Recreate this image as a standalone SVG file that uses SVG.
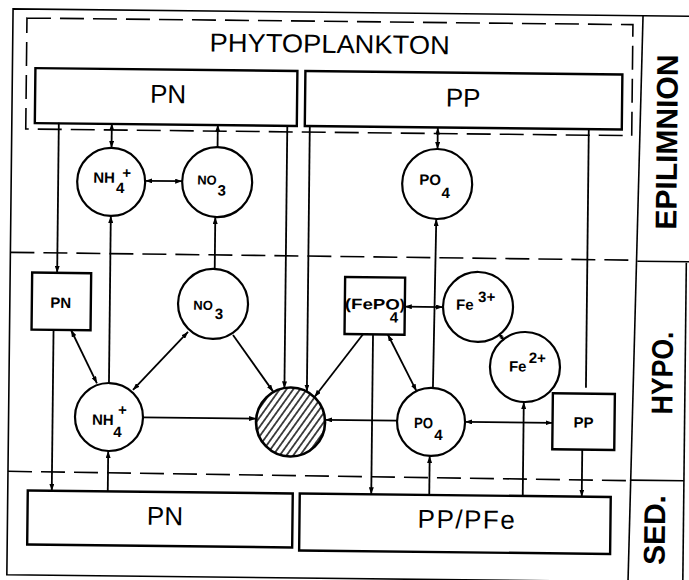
<svg xmlns="http://www.w3.org/2000/svg" width="689" height="580" viewBox="0 0 689 580">
<defs>
<style>
.box{fill:#fff;stroke:#000;stroke-width:2.4}
.circ{fill:#fff;stroke:#000;stroke-width:2.2}
.con{stroke:#000;stroke-width:1.8;fill:none}
.dash{stroke:#000;stroke-width:1.6;stroke-dasharray:24 9;fill:none}
.frame{stroke:#000;stroke-width:1.6;fill:none}
.big{font-family:"Liberation Sans",Arial,sans-serif;font-size:26px;fill:#000}
.sm{font-family:"Liberation Sans",Arial,sans-serif;font-size:15px;font-weight:bold;fill:#000}
.lab{font-family:"Liberation Sans",Arial,sans-serif;font-size:30px;font-weight:bold;fill:#000}
</style>
<marker id="ah" viewBox="0 0 7 5" refX="7" refY="2.5" markerWidth="7" markerHeight="5" markerUnits="userSpaceOnUse" orient="auto-start-reverse">
<path d="M0,0L7,2.5L0,5z" fill="#000"/>
</marker>
<marker id="ahs" viewBox="0 0 4 4" refX="4" refY="2" markerWidth="4" markerHeight="4" markerUnits="userSpaceOnUse" orient="auto-start-reverse">
<path d="M0,0L4,2L0,4z" fill="#000"/>
</marker>
<pattern id="hatch" width="5.5" height="10" patternUnits="userSpaceOnUse" patternTransform="rotate(35)">
<line x1="2.75" y1="0" x2="2.75" y2="10" stroke="#000" stroke-width="1.4"/>
</pattern>
</defs>
<rect x="0" y="0" width="689" height="580" fill="#fff"/>
<g transform="rotate(0.63 344 290)">
<g id="frame">
<path class="frame" d="M700,12.5H10V578.5H640"/>
<line class="frame" x1="640" y1="12.5" x2="631" y2="592"/>
<line class="frame" x1="686" y1="259" x2="686" y2="592"/>
<line class="dash" x1="10" y1="256" x2="637" y2="257"/>
<line class="frame" x1="637" y1="258" x2="700" y2="258"/>
<line class="dash" x1="10" y1="475" x2="632" y2="477.5"/>
<line class="frame" x1="632" y1="477" x2="686" y2="477"/>
<text class="lab" transform="translate(675.5,138.5) rotate(-90)" text-anchor="middle" textLength="175" lengthAdjust="spacingAndGlyphs">EPILIMNION</text>
<text class="lab" transform="translate(673.5,369.5) rotate(-90)" text-anchor="middle" textLength="83" lengthAdjust="spacingAndGlyphs">HYPO.</text>
<text class="lab" transform="translate(667.5,526.5) rotate(-90)" text-anchor="middle" textLength="70" lengthAdjust="spacingAndGlyphs">SED.</text>
</g>
<g id="phytoplankton">
<rect class="dash" x="24" y="21.5" width="606" height="111"/>
<text class="big" x="327" y="53" text-anchor="middle" font-size="27" textLength="240" lengthAdjust="spacingAndGlyphs">PHYTOPLANKTON</text>
</g>
<g id="pn-epi">
<rect class="box" x="33" y="71.5" width="262" height="55"/>
<text class="big" x="166" y="105" text-anchor="middle">PN</text>
</g>
<g id="pp-epi">
<rect class="box" x="303" y="71.5" width="317" height="55"/>
<text class="big" x="461" y="105.5" text-anchor="middle">PP</text>
</g>
<g id="nh4-epi">
<circle class="circ" cx="110" cy="184.5" r="34"/>
<text class="sm"><tspan x="92" y="185.5">NH</tspan><tspan x="121" y="180.5">+</tspan><tspan x="115" y="195.5">4</tspan></text>
</g>
<g id="no3-epi">
<circle class="circ" cx="216" cy="183.5" r="35"/>
<text class="sm"><tspan x="196" y="186" font-size="13">NO</tspan><tspan x="216.5" y="197">3</tspan></text>
</g>
<g id="po4-epi">
<circle class="circ" cx="436" cy="183" r="35"/>
<text class="sm"><tspan x="418" y="184">PO</tspan><tspan x="440.5" y="197">4</tspan></text>
</g>
<g id="pn-hypo">
<rect class="box" x="32" y="276" width="59" height="57"/>
<text class="sm" x="61" y="311" text-anchor="middle" font-size="16">PN</text>
</g>
<g id="no3-hypo">
<circle class="circ" cx="213.2" cy="305.4" r="35"/>
<text class="sm"><tspan x="193.5" y="311.4" font-size="13">NO</tspan><tspan x="215" y="320.5">3</tspan></text>
</g>
<g id="nh4-hypo">
<circle class="circ" cx="110.4" cy="419.6" r="34"/>
<text class="sm"><tspan x="93.4" y="427.6">NH</tspan><tspan x="119.4" y="417.6">+</tspan><tspan x="115" y="439.6">4</tspan></text>
</g>
<g id="sink">
<circle cx="292" cy="422.6" r="34.5" fill="url(#hatch)" stroke="#000" stroke-width="2.6"/>
</g>
<g id="fepo4">
<rect class="box" x="345" y="277" width="60" height="57"/>
<text class="sm"><tspan x="345" y="309" textLength="55" lengthAdjust="spacingAndGlyphs">(FePO</tspan><tspan x="400" y="309">)</tspan><tspan x="390" y="322">4</tspan></text>
</g>
<g id="fe3">
<circle class="circ" cx="478.2" cy="305.5" r="35"/>
<text class="sm"><tspan x="456.2" y="308.5">Fe</tspan><tspan x="478.2" y="300.5">3+</tspan></text>
</g>
<g id="fe2">
<circle class="circ" cx="525.8" cy="365" r="35"/>
<text class="sm"><tspan x="509.8" y="369.7">Fe</tspan><tspan x="529.5" y="361">2+</tspan></text>
</g>
<g id="po4-hypo">
<circle class="circ" cx="432.5" cy="421" r="34"/>
<text class="sm"><tspan x="415.5" y="427.3" textLength="19" lengthAdjust="spacingAndGlyphs">PO</tspan><tspan x="436" y="439">4</tspan></text>
</g>
<g id="pp-hypo">
<rect class="box" x="554" y="391" width="62" height="56"/>
<text class="sm" x="585" y="425" text-anchor="middle">PP</text>
</g>
<g id="pn-sed">
<rect class="box" x="30" y="494" width="265" height="54"/>
<text class="big" x="167.5" y="527" text-anchor="middle">PN</text>
</g>
<g id="pp-sed">
<rect class="box" x="302" y="494" width="311" height="57"/>
<text class="big" x="469.5" y="527" text-anchor="middle" letter-spacing="1.5">PP/PFe</text>
</g>
<g id="connectors">
<line class="con" x1="57" y1="126" x2="57" y2="276" marker-end="url(#ah)"/>
<line class="con" x1="110" y1="126" x2="110" y2="150.5" marker-start="url(#ah)" marker-end="url(#ah)"/>
<line class="con" x1="216" y1="148.5" x2="216" y2="126" marker-end="url(#ah)"/>
<line class="con" x1="144" y1="183" x2="181" y2="183" marker-start="url(#ah)" marker-end="url(#ah)"/>
<line class="con" x1="436" y1="126.5" x2="436" y2="148" marker-start="url(#ah)" marker-end="url(#ah)"/>
<line class="con" x1="110" y1="385.6" x2="110" y2="218.5" marker-end="url(#ah)"/>
<line class="con" x1="214.5" y1="270.4" x2="214.5" y2="218.5" marker-end="url(#ah)"/>
<line class="con" x1="285.5" y1="126.5" x2="285.5" y2="389" marker-end="url(#ah)"/>
<line class="con" x1="308" y1="126.5" x2="308" y2="392" marker-end="url(#ah)"/>
<line class="con" x1="587" y1="126.5" x2="587" y2="385"/>
<line class="con" x1="434" y1="387" x2="435.5" y2="218" marker-end="url(#ah)"/>
<line class="con" x1="71.5" y1="333" x2="98" y2="386" marker-start="url(#ah)" marker-end="url(#ah)"/>
<line class="con" x1="188.5" y1="333.7" x2="134.1" y2="392.3" marker-start="url(#ah)" marker-end="url(#ah)"/>
<line class="con" x1="233.5" y1="336.2" x2="274.3" y2="392.4" marker-end="url(#ah)"/>
<line class="con" x1="144.4" y1="419.6" x2="257.5" y2="419.6" marker-end="url(#ah)"/>
<line class="con" x1="54" y1="333" x2="54" y2="494" marker-end="url(#ah)"/>
<line class="con" x1="110" y1="494" x2="110" y2="453.6" marker-end="url(#ah)"/>
<line class="con" x1="363.5" y1="334" x2="315.7" y2="397.3" marker-end="url(#ah)"/>
<line class="con" x1="388.3" y1="334" x2="417.6" y2="390.3" marker-start="url(#ah)" marker-end="url(#ah)"/>
<line class="con" x1="373.5" y1="334" x2="373.5" y2="494" marker-end="url(#ah)"/>
<line class="con" x1="405" y1="306" x2="443.2" y2="306" marker-start="url(#ah)" marker-end="url(#ah)"/>
<line class="con" x1="499.5" y1="332" x2="504.5" y2="338.5" marker-start="url(#ahs)" marker-end="url(#ahs)"/>
<line class="con" x1="398.5" y1="420" x2="326.5" y2="420" marker-end="url(#ah)"/>
<line class="con" x1="466.5" y1="420.5" x2="554" y2="420.5" marker-start="url(#ah)" marker-end="url(#ah)"/>
<line class="con" x1="431.5" y1="494" x2="431.5" y2="455" marker-end="url(#ah)"/>
<line class="con" x1="525" y1="494" x2="525" y2="400" marker-end="url(#ah)"/>
<line class="con" x1="584" y1="447" x2="584" y2="494" marker-end="url(#ah)"/>
</g>
</g>
</svg>
